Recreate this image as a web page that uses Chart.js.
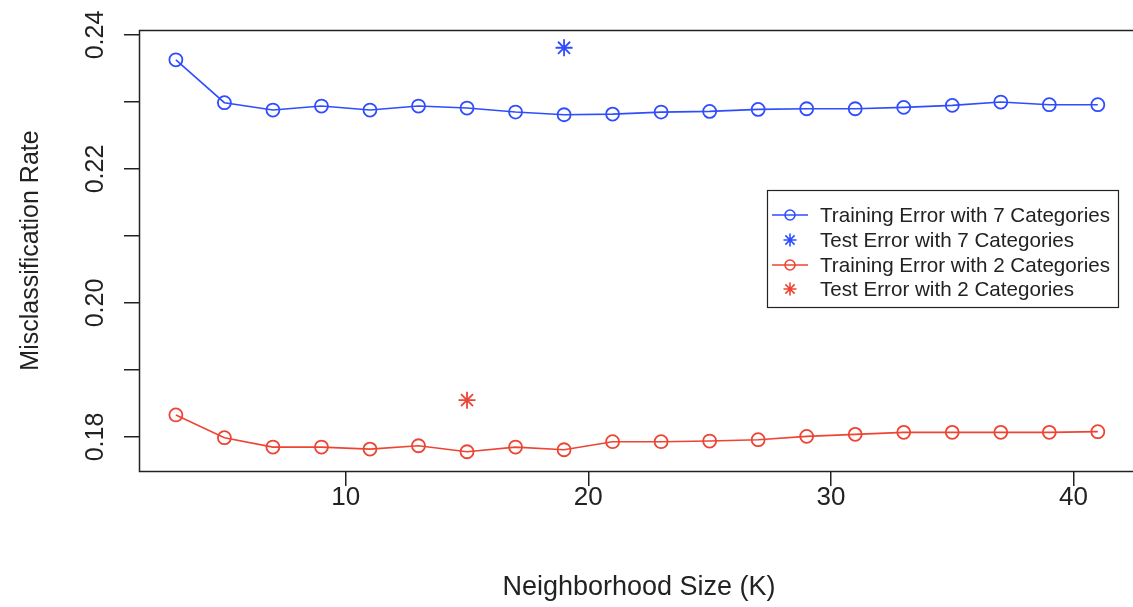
<!DOCTYPE html>
<html>
<head>
<meta charset="utf-8">
<script src="https://cdn.jsdelivr.net/npm/chart.js@4.4.1/dist/chart.umd.min.js"></script>
<style>
html, body { margin: 0; padding: 0; background: #fff; overflow: hidden; }
canvas { display: block; }
</style>
</head>
<body>
<canvas id="chart_knnMisclassification" width="1145" height="607"></canvas>
<script>
// neighborhood sizes used for the training error curves
var kValues = [3, 5, 7, 9, 11, 13, 15, 17, 19, 21, 23, 25, 27, 29, 31, 33, 35, 37, 39, 41];
var train7 = [0.2363, 0.2299, 0.2288, 0.2294, 0.2288, 0.2294, 0.2291, 0.2285, 0.2281, 0.2282,
              0.2285, 0.2286, 0.2289, 0.2290, 0.2290, 0.2292, 0.2295, 0.2300, 0.2296, 0.2296];
var train2 = [0.1833, 0.1799, 0.1785, 0.1785, 0.1782, 0.1787, 0.1778, 0.1785, 0.1781, 0.1793,
              0.1793, 0.1794, 0.1796, 0.1801, 0.1804, 0.1807, 0.1807, 0.1807, 0.1807, 0.1808];
var test7 = [{x: 19, y: 0.2381}];
var test2 = [{x: 15, y: 0.1855}];

var xTicks = [10, 20, 30, 40];
var yTicks = [0.18, 0.19, 0.20, 0.21, 0.22, 0.23, 0.24];
var yTickLabels = ['0.18', '', '0.20', '', '0.22', '', '0.24'];

var blue = '#2f4dff';
var red = '#ee4433';
var ink = '#222222';
var fontFamily = '"Liberation Sans", Arial, Helvetica, sans-serif';

function pairs(xs, ys) {
    return xs.map(function(x, i) { return {x: x, y: ys[i]}; });
}

function drawSymbol(ctx, style, color, x, y, r) {
    ctx.save();
    ctx.strokeStyle = color;
    ctx.lineWidth = 1.6;
    ctx.beginPath();
    if (style === 'circle') {
        ctx.arc(x, y, r, 0, Math.PI * 2);
    } else {
        for (var a = 0; a < 4; a++) {
            var ang = a * Math.PI / 4;
            ctx.moveTo(x - r * Math.cos(ang), y - r * Math.sin(ang));
            ctx.lineTo(x + r * Math.cos(ang), y + r * Math.sin(ang));
        }
    }
    ctx.stroke();
    ctx.restore();
}

var rStylePlugin = {
    id: 'rStyle',
    beforeDraw: function(chart) {
        var ctx = chart.ctx;
        ctx.save();
        ctx.fillStyle = 'white';
        ctx.fillRect(0, 0, chart.width, chart.height);
        ctx.restore();
    },
    afterDraw: function(chart) {
        var ctx = chart.ctx;
        var area = chart.chartArea;
        var xs = chart.scales.x, ys = chart.scales.y;
        ctx.save();
        // plot box
        ctx.strokeStyle = ink;
        ctx.lineWidth = 1.5;
        ctx.strokeRect(area.left + 0.5, area.top + 0.5, area.right - area.left, area.bottom - area.top);

        ctx.fillStyle = ink;
        ctx.textAlign = 'center';
        ctx.textBaseline = 'middle';
        // x tick labels
        ctx.font = '26px ' + fontFamily;
        xTicks.forEach(function(v) {
            ctx.fillText(String(v), xs.getPixelForValue(v), 498);
        });
        // y tick labels, rotated like R
        ctx.font = '25px ' + fontFamily;
        yTicks.forEach(function(v, i) {
            if (!yTickLabels[i]) return;
            ctx.save();
            ctx.translate(96, ys.getPixelForValue(v));
            ctx.rotate(-Math.PI / 2);
            ctx.fillText(yTickLabels[i], 0, 0);
            ctx.restore();
        });
        // axis titles
        ctx.save();
        ctx.translate(31, (area.top + area.bottom) / 2);
        ctx.rotate(-Math.PI / 2);
        ctx.fillText('Misclassification Rate', 0, 0);
        ctx.restore();
        ctx.font = '27px ' + fontFamily;
        ctx.fillText('Neighborhood Size (K)', 639, 588);

        // legend box
        var lx = 767, ly = 190, lw = 351, lh = 117;
        ctx.fillStyle = 'white';
        ctx.fillRect(lx, ly, lw, lh);
        ctx.strokeStyle = ink;
        ctx.lineWidth = 1.2;
        ctx.strokeRect(lx + 0.5, ly + 0.5, lw, lh);
        var rowY = [215, 240, 265, 289];
        ctx.font = '20.6px ' + fontFamily;
        ctx.textAlign = 'left';
        chart.data.datasets.forEach(function(ds, i) {
            var y = rowY[i];
            if (ds.showLine !== false) {
                ctx.strokeStyle = ds.borderColor;
                ctx.lineWidth = 1.6;
                ctx.beginPath();
                ctx.moveTo(772, y);
                ctx.lineTo(808, y);
                ctx.stroke();
                drawSymbol(ctx, 'circle', ds.borderColor, 790, y, 5);
            } else {
                drawSymbol(ctx, 'star', ds.borderColor, 790, y, 6.5);
            }
            ctx.fillStyle = ink;
            ctx.fillText(ds.label, 820, y + 1);
        });
        ctx.restore();
    }
};

var chart_knnMisclassification = new Chart(document.getElementById('chart_knnMisclassification'), {
    type: 'line',
    data: {
        datasets: [
            {
                label: 'Training Error with 7 Categories',
                data: pairs(kValues, train7),
                borderColor: blue,
                backgroundColor: 'transparent',
                borderWidth: 1.6,
                pointStyle: 'circle',
                pointRadius: 6.5,
                pointBorderWidth: 1.8,
                pointBackgroundColor: 'transparent',
                pointBorderColor: blue
            },
            {
                label: 'Test Error with 7 Categories',
                data: test7,
                showLine: false,
                borderColor: blue,
                pointStyle: 'star',
                pointRadius: 8.5,
                pointBorderWidth: 1.8,
                pointBorderColor: blue
            },
            {
                label: 'Training Error with 2 Categories',
                data: pairs(kValues, train2),
                borderColor: red,
                backgroundColor: 'transparent',
                borderWidth: 1.6,
                pointStyle: 'circle',
                pointRadius: 6.5,
                pointBorderWidth: 1.8,
                pointBackgroundColor: 'transparent',
                pointBorderColor: red
            },
            {
                label: 'Test Error with 2 Categories',
                data: test2,
                showLine: false,
                borderColor: red,
                pointStyle: 'star',
                pointRadius: 8.5,
                pointBorderWidth: 1.8,
                pointBorderColor: red
            }
        ]
    },
    options: {
        animation: false,
        responsive: false,
        devicePixelRatio: 1,
        layout: {
            padding: {left: 0, top: 30, right: 2, bottom: 0}
        },
        plugins: {
            legend: { display: false },
            tooltip: { enabled: false }
        },
        scales: {
            x: {
                type: 'linear',
                min: 1.48,
                max: 42.52,
                afterBuildTicks: function(scale) {
                    scale.ticks = xTicks.map(function(v) { return {value: v}; });
                },
                afterFit: function(scale) { scale.height = 136; },
                ticks: { display: false },
                grid: {
                    drawOnChartArea: false,
                    drawTicks: true,
                    tickLength: 15,
                    color: ink,
                    lineWidth: 1.5
                },
                border: { display: false }
            },
            y: {
                type: 'linear',
                min: 0.17493,
                max: 0.24075,
                afterBuildTicks: function(scale) {
                    scale.ticks = yTicks.map(function(v) { return {value: v}; });
                },
                afterFit: function(scale) { scale.width = 139; },
                ticks: { display: false },
                grid: {
                    drawOnChartArea: false,
                    drawTicks: true,
                    tickLength: 15,
                    color: ink,
                    lineWidth: 1.5
                },
                border: { display: false }
            }
        }
    },
    plugins: [rStylePlugin]
});
</script>
</body>
</html>
